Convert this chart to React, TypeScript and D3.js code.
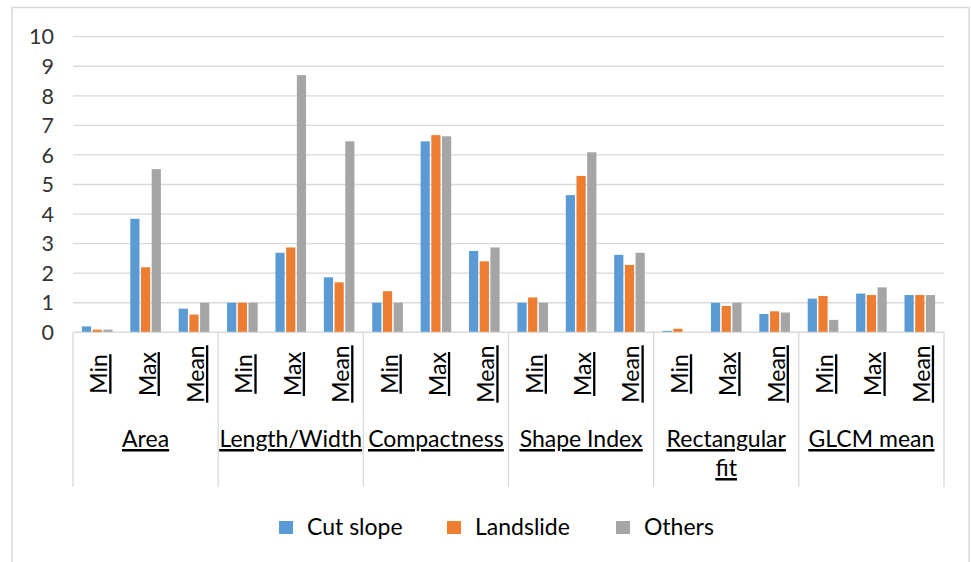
import React from "react";
import * as d3 from "d3";

const groups = ["Area", "Length/Width", "Compactness", "Shape Index", "Rectangular fit", "GLCM mean"];
const stats = ["Min", "Max", "Mean"];
const seriesNames = ["Cut slope", "Landslide", "Others"];
const seriesColors = ["#5B9BD5", "#ED7D31", "#A5A5A5"];

// values per group, in order Min, Max, Mean
const cutSlope = [0.2, 3.84, 0.8, 1.0, 2.69, 1.86, 1.0, 6.46, 2.75, 1.0, 4.64, 2.62, 0.05, 1.0, 0.62, 1.14, 1.31, 1.26];
const landslide = [0.09, 2.2, 0.6, 1.0, 2.87, 1.69, 1.39, 6.67, 2.4, 1.18, 5.29, 2.28, 0.12, 0.89, 0.71, 1.23, 1.26, 1.26];
const others = [0.09, 5.52, 1.0, 1.0, 8.7, 6.46, 1.0, 6.63, 2.87, 1.0, 6.09, 2.69, 0.0, 1.0, 0.67, 0.42, 1.52, 1.26];
const yTicks = [0, 1, 2, 3, 4, 5, 6, 7, 8, 9, 10];

const W = 971;
const H = 562;
const FONT = "Lato, 'Open Sans', sans-serif";

export default function App() {
  const left = 73;
  const right = 944;
  const top = 36.7;
  const bottom = 332.3;

  const keys = groups.flatMap((g) => stats.map((s) => `${g}|${s}`));
  const x = d3.scaleBand<string>().domain(keys).range([left, right]).padding(0);
  const gx = d3.scaleBand<string>().domain(groups).range([left, right]).padding(0);
  const y = d3.scaleLinear().domain([0, 10]).range([bottom, top]);

  const data = [cutSlope, landslide, others];
  const barW = 9.2;
  const step = 10.7;
  const axisBottom = 487;

  return (
    <svg
      width={W}
      height={H}
      style={{ position: "absolute", left: 0, top: 0, background: "#fff" }}
      fontFamily={FONT}
    >
      <rect x={0} y={0} width={W} height={H} fill="#fff" />
      {/* chart frame */}
      <rect x={12} y={7.5} width={957} height={H} fill="none" stroke="#d9d9d9" strokeWidth={1.5} />

      {/* gridlines and y tick labels */}
      {yTicks.map((t) => (
        <g key={t}>
          <line x1={left} x2={right} y1={y(t)} y2={y(t)} stroke="#d9d9d9" strokeWidth={1.3} />
          <text x={54} y={y(t)} dy="0.36em" textAnchor="end" fontSize={21.5} fill="#333">
            {t}
          </text>
        </g>
      ))}

      {/* bars */}
      {data.map((vals, si) =>
        keys.map((k, i) => {
          const cx = (x(k) as number) + x.bandwidth() / 2;
          const bx = cx + (si - 1) * step - barW / 2;
          const v = vals[i];
          if (v <= 0) return null;
          return (
            <rect
              key={`${si}-${k}`}
              x={bx}
              y={y(v)}
              width={barW}
              height={y(0) - y(v)}
              fill={seriesColors[si]}
            />
          );
        })
      )}

      {/* category axis */}
      <line x1={left} x2={right} y1={bottom} y2={bottom} stroke="#d9d9d9" strokeWidth={1.3} />
      {[...groups.map((g) => gx(g) as number), right].map((px, i) => (
        <line key={i} x1={px} x2={px} y1={bottom} y2={axisBottom} stroke="#d9d9d9" strokeWidth={1.3} />
      ))}

      {/* stat labels, rotated */}
      {keys.map((k) => {
        const cx = (x(k) as number) + x.bandwidth() / 2;
        const s = k.split("|")[1];
        return (
          <text
            key={k}
            transform={`translate(${cx + 10},374) rotate(-90)`}
            textAnchor="middle"
            fontSize={23}
            fill="#000"
            textDecoration="underline"
          >
            {s}
          </text>
        );
      })}

      {/* group labels */}
      {groups.map((g) => {
        const cx = (gx(g) as number) + gx.bandwidth() / 2;
        const lines = g === "Rectangular fit" ? ["Rectangular", "fit"] : [g];
        return (
          <text key={g} x={cx} y={447} textAnchor="middle" fontSize={23} fill="#000" textDecoration="underline">
            {lines.map((ln, i) => (
              <tspan key={i} x={cx} dy={i === 0 ? 0 : 29} textDecoration="underline">
                {ln}
              </tspan>
            ))}
          </text>
        );
      })}

      {/* legend */}
      {seriesNames.map((n, i) => {
        const lx = [279, 447, 616][i];
        return (
          <g key={n}>
            <rect x={lx} y={521} width={14} height={13} fill={seriesColors[i]} />
            <text x={lx + 28} y={534.5} fontSize={23} fill="#000">
              {n}
            </text>
          </g>
        );
      })}
    </svg>
  );
}
